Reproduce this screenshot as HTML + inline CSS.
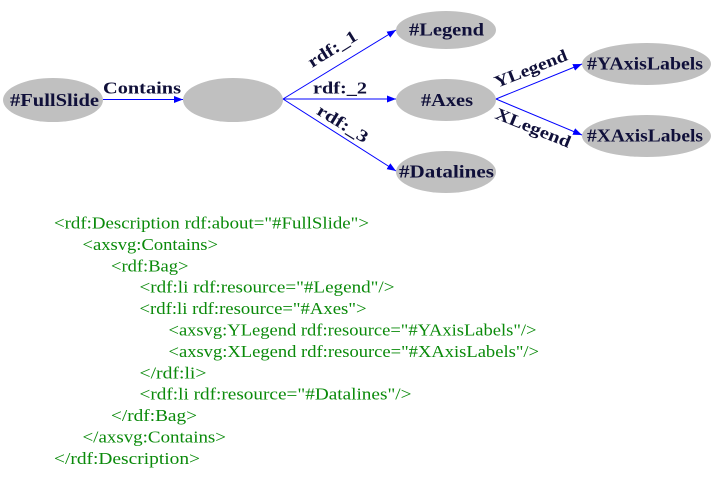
<!DOCTYPE html>
<html>
<head>
<meta charset="utf-8">
<style>
  html, body { margin: 0; padding: 0; background: #ffffff; }
  svg { display: block; }
  .node { font-family: "Liberation Serif", "DejaVu Serif", serif; font-weight: bold; font-size: 18px; fill: #10103a; }
  .elab { font-family: "Liberation Serif", "DejaVu Serif", serif; font-weight: bold; font-size: 17px; fill: #10103a; }
  .code { font-family: "Liberation Serif", "DejaVu Serif", serif; font-size: 17px; fill: #0a8a0a; }
</style>
</head>
<body>
<svg width="714" height="500" viewBox="0 0 714 500" xmlns="http://www.w3.org/2000/svg">
  <defs>
    <marker id="ah" markerUnits="userSpaceOnUse" markerWidth="9" markerHeight="8" refX="9" refY="4" orient="auto">
      <path d="M0,0.5 L9,4 L0,7.5 z" fill="#0000ff"/>
    </marker>
  </defs>

  <!-- ellipses -->
  <g fill="#c0c0c0">
    <ellipse cx="53" cy="100" rx="50" ry="22"/>
    <ellipse cx="233" cy="100" rx="50" ry="22"/>
    <ellipse cx="446" cy="30" rx="50" ry="19"/>
    <ellipse cx="446" cy="100" rx="50" ry="21"/>
    <ellipse cx="446" cy="172" rx="50" ry="21"/>
    <ellipse cx="646.5" cy="64" rx="64.5" ry="21"/>
    <ellipse cx="646.5" cy="136" rx="64.5" ry="21"/>
  </g>

  <!-- connectors -->
  <g stroke="#0000ff" stroke-width="1" fill="none" marker-end="url(#ah)">
    <line x1="103" y1="99.5" x2="183" y2="99.5"/>
    <line x1="283" y1="99" x2="396" y2="30"/>
    <line x1="283" y1="99" x2="396" y2="99"/>
    <line x1="283" y1="99" x2="396" y2="171"/>
    <line x1="496" y1="99" x2="582" y2="64"/>
    <line x1="496" y1="99" x2="582" y2="135"/>
  </g>

  <!-- node labels -->
  <text class="node" x="10" y="106" textLength="89" lengthAdjust="spacingAndGlyphs">#FullSlide</text>
  <text class="node" x="409" y="35.5" textLength="75" lengthAdjust="spacingAndGlyphs">#Legend</text>
  <text class="node" x="421" y="106" textLength="52" lengthAdjust="spacingAndGlyphs">#Axes</text>
  <text class="node" x="399" y="177.5" textLength="95" lengthAdjust="spacingAndGlyphs">#Datalines</text>
  <text class="node" x="587" y="69.5" textLength="116" lengthAdjust="spacingAndGlyphs">#YAxisLabels</text>
  <text class="node" x="587" y="141.5" textLength="116" lengthAdjust="spacingAndGlyphs">#XAxisLabels</text>

  <!-- edge labels -->
  <text class="elab" x="103" y="93.3" textLength="78" lengthAdjust="spacingAndGlyphs">Contains</text>
  <text class="elab" x="313" y="93.3" textLength="54" lengthAdjust="spacingAndGlyphs">rdf:_2</text>
  <text class="elab" transform="translate(312,68) rotate(-31.8)" x="0" y="0" textLength="55" lengthAdjust="spacingAndGlyphs">rdf:_1</text>
  <text class="elab" transform="translate(315.5,113.5) rotate(31.5)" x="0" y="0" textLength="57" lengthAdjust="spacingAndGlyphs">rdf:_3</text>
  <text class="elab" transform="translate(497,88) rotate(-21.6)" x="0" y="0" textLength="77" lengthAdjust="spacingAndGlyphs">YLegend</text>
  <text class="elab" transform="translate(494,118) rotate(22)" x="0" y="0" textLength="80" lengthAdjust="spacingAndGlyphs">XLegend</text>

  <!-- RDF/XML code -->
  <text class="code" x="54" y="228.5" textLength="315" lengthAdjust="spacingAndGlyphs">&lt;rdf:Description rdf:about="#FullSlide"&gt;</text>
  <text class="code" x="82.5" y="249.9" textLength="135.5" lengthAdjust="spacingAndGlyphs">&lt;axsvg:Contains&gt;</text>
  <text class="code" x="111" y="271.3" textLength="77.5" lengthAdjust="spacingAndGlyphs">&lt;rdf:Bag&gt;</text>
  <text class="code" x="139.5" y="292.7" textLength="255" lengthAdjust="spacingAndGlyphs">&lt;rdf:li rdf:resource="#Legend"/&gt;</text>
  <text class="code" x="139.5" y="314.1" textLength="227" lengthAdjust="spacingAndGlyphs">&lt;rdf:li rdf:resource="#Axes"&gt;</text>
  <text class="code" x="168.5" y="335.5" textLength="368" lengthAdjust="spacingAndGlyphs">&lt;axsvg:YLegend rdf:resource="#YAxisLabels"/&gt;</text>
  <text class="code" x="168.5" y="356.9" textLength="370.5" lengthAdjust="spacingAndGlyphs">&lt;axsvg:XLegend rdf:resource="#XAxisLabels"/&gt;</text>
  <text class="code" x="139.5" y="378.3" textLength="67" lengthAdjust="spacingAndGlyphs">&lt;/rdf:li&gt;</text>
  <text class="code" x="139.5" y="399.7" textLength="272" lengthAdjust="spacingAndGlyphs">&lt;rdf:li rdf:resource="#Datalines"/&gt;</text>
  <text class="code" x="111" y="421.1" textLength="86" lengthAdjust="spacingAndGlyphs">&lt;/rdf:Bag&gt;</text>
  <text class="code" x="82.5" y="442.5" textLength="143.5" lengthAdjust="spacingAndGlyphs">&lt;/axsvg:Contains&gt;</text>
  <text class="code" x="54" y="463.9" textLength="146" lengthAdjust="spacingAndGlyphs">&lt;/rdf:Description&gt;</text>
</svg>
</body>
</html>
